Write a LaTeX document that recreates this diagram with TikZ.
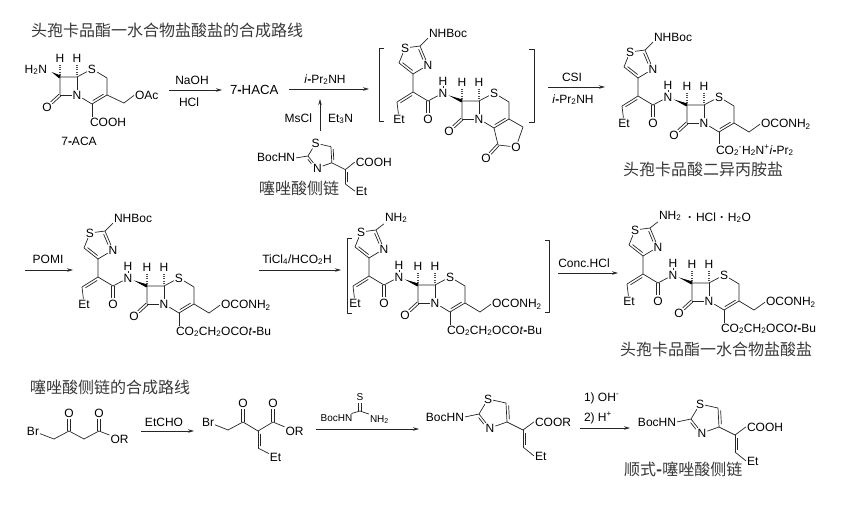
\documentclass[tikz,border=0pt]{standalone}
\usepackage{fontspec}
\setmainfont{Liberation Sans}
\newfontfamily\cjk{Noto Sans CJK SC}
\usepackage{tikz}
\usetikzlibrary{calc}
\usetikzlibrary{arrows.meta}
\newcommand{\tsub}[1]{\textsubscript{#1}}
\newcommand{\tsup}[1]{\textsuperscript{#1}}
\newcommand{\hy}{\textbf{-}}
\tikzset{
	% atoms of the formulas, and groups placed by their base line
	atom/.style={inner sep=0.8pt,font=\fontsize{12}{14}\selectfont},
	lab/.style={inner sep=0.8pt,anchor=base west,font=\fontsize{12}{14}\selectfont},
	reagent/.style={inner sep=0pt,anchor=base,font=\fontsize{12}{14}\selectfont},
	small/.style={font=\fontsize{10}{12}\selectfont},
	cjktext/.style={inner sep=0pt,anchor=west,text=black!78,font=\cjk\fontsize{16}{18}\selectfont},
	bond/.style={line width=0.7pt,draw=black!85,line join=round},
	hashbond/.style={line width=1.8pt,draw=black!70,dash pattern=on 0.8pt off 1.6pt,shorten <=2pt},
	rxn/.style={line width=0.8pt,draw=black!85,-{Stealth[length=6pt,width=3.5pt]}}
}
\begin{document}
\begin{tikzpicture}[x=1pt,y=-1pt]
	\useasboundingbox (0,0) rectangle (844,504);
	% macros for bonds: double, carbonyl, wedge
	\newcommand{\dbond}[4][]{\draw[bond](#2)--(#3);\draw[bond,shorten >=2.5pt,shorten <=2.5pt,#1]($(#2)!#4pt!90:(#3)$)--($(#3)!#4pt!-90:(#2)$);}
	\newcommand{\cobond}[2]{\draw[bond,shorten >=6pt]($(#1)!1.3pt!90:(#2)$)--($(#2)!1.3pt!-90:(#1)$);\draw[bond,shorten >=6pt]($(#1)!1.3pt!-90:(#2)$)--($(#2)!1.3pt!90:(#1)$);}
	\newcommand{\wedgeb}[2]{\fill[black]($(#1)!0.3!(#2)$)--($(#2)!1.6pt!90:(#1)$)--($(#2)!1.6pt!-90:(#1)$)--cycle;}
	% bicyclic core, origin at the carbon beside the lactam C=O
	\newcommand{\cephring}{
		\coordinate (c7) at (0,0);
		\coordinate (c6) at (17,0);
		\coordinate (c8) at (0,18);
		\coordinate (c2) at (47,1);
		\coordinate (c3) at (47,18);
		\coordinate (c4) at (32,27);
		\node[atom](n5) at (17,18){N};
		\node[atom](s1) at (32,-8){S};
		\node[atom](h7) at (0,-19){H};
		\node[atom](h6) at (17,-19){H};
		\node[atom](o8) at (-13,30){O};
		\draw[bond](c8)--(c7)--(c6)--(s1)--(c2)--(c3);
		\draw[bond](c8)--(n5)--(c6);
		\draw[bond](n5)--(c4);
		\dbond{c3}{c4}{-2.5}
		\cobond{c8}{o8}
		\draw[hashbond](c7)--(h7);
		\draw[hashbond](c6)--(h6);
	}
	% amide and thiazole part on the left of the core
	\newcommand{\cephside}[1]{
		\coordinate (t2) at (-42,-55);
		\coordinate (t4) at (-49,-27);
		\coordinate (t5) at (-63,-38);
		\coordinate (ca) at (-49,-9);
		\coordinate (cb) at (-65,1);
		\coordinate (cc) at (-34,0);
		\node[atom](t1) at (-57,-53){S};
		\node[atom](t3) at (-34,-36){N};
		\node[atom](et) at (-63,18){Et};
		\node[atom](oc) at (-34,18){O};
		\node[atom](na) at (-19,-8){N};
		\node[atom](ha) at (-19,-20){H};
		\node[lab](amine) at (-34,-64){#1};
		\draw[bond](amine.south west)--(t2)--(t1)--(t5);
		\draw[bond](t4)--(t3);
		\dbond{t5}{t4}{2.5}
		\dbond[shorten >=7pt]{t2}{t3}{-2.5}
		\draw[bond](t4)--(ca)--(cc)--(na);
		\dbond{ca}{cb}{2.5}
		\draw[bond](cb)--(et);
		\cobond{cc}{oc}
		\draw[bond](na)--(ha);
		\wedgeb{na}{c7}
	}
	% side chain at C3 and ester at C4
	\newcommand{\cephtail}[1]{
		\coordinate (cp) at (62,27);
		\node[lab](oco) at (73,22.5){OCONH\tsub{2}};
		\node[lab](est) at (28,49){#1};
		\draw[bond](c3)--(cp)--(oco.west);
		\draw[bond](c4)--(c4 |- est.north);
	}
	% thiazole acid fragment, origin at C2
	\newcommand{\thzacid}[1]{
		\coordinate (t2) at (0,0);
		\coordinate (t4) at (28,8);
		\coordinate (t5) at (27,-11);
		\coordinate (ca) at (44,16);
		\coordinate (cb) at (44,33);
		\node[atom](t1) at (9,-15){S};
		\node[atom](t3) at (11,14){N};
		\node[lab,anchor=base east](boc) at (-14,7){BocHN};
		\node[lab](acid) at (55,12){#1};
		\node[lab](et) at (55,46){Et};
		\draw[bond](boc.east)--(t2)--(t1)--(t5);
		\draw[bond](t4)--(t3);
		\dbond{t5}{t4}{2.5}
		\dbond[shorten >=7pt]{t2}{t3}{-2.5}
		\draw[bond](t4)--(ca)--(acid.west);
		\dbond{ca}{cb}{2.5}
		\draw[bond](cb)--(et.west);
	}

	% titles
	\node[cjktext](title1) at (31,30){头孢卡品酯一水合物盐酸盐的合成路线};
	\node[cjktext](title2) at (30,387){噻唑酸侧链的合成路线};

	% 7-ACA
	\begin{scope}[shift={(60,77)},name prefix=aca-]
		\cephring
		\coordinate (cp) at (64,26);
		\node[lab,anchor=base east](nh) at (-12,-4){H\tsub{2}N};
		\node[lab](oac) at (74,22.5){OAc};
		\node[lab](cooh) at (29,49){COOH};
		\draw[bond](c3)--(cp)--(oac.west);
		\draw[bond](c4)--(c4 |- cooh.north);
		\wedgeb{nh.east}{c7}
	\end{scope}
	\node[reagent](acaname) at (79,145){7\hy ACA};

	% first row, reagents and arrows
	\coordinate (a1s) at (169,90);
	\coordinate (a1e) at (222,90);
	\draw[rxn](a1s)--(a1e);
	\node[reagent](naoh) at (192,84){NaOH};
	\node[reagent](hcl1) at (189,106){HCl};
	\node[lab,font=\fontsize{13.2}{15}\selectfont](haca) at (229,94.5){7\hy HACA};
	\coordinate (a2s) at (289,89);
	\coordinate (a2e) at (369,89);
	\draw[rxn](a2s)--(a2e);
	\node[reagent](ipr1) at (325,83){\textit{i}\hy Pr\tsub{2}NH};
	\coordinate (a3s) at (320,131);
	\coordinate (a3e) at (320,99);
	\draw[rxn](a3s)--(a3e);
	\node[lab,anchor=base east](mscl) at (313,122){MsCl};
	\node[lab](et3n) at (327,122){Et\tsub{3}N};

	% thiazole acid under the arrow
	\begin{scope}[shift={(308,156)},scale=0.85,name prefix=acid-]
		\thzacid{COOH}
	\end{scope}
	\node[cjktext](acidname) at (259,188){噻唑酸侧链};

	% bracketed lactone
	\draw[bond](384,48)--(379,48)--(379,121)--(384,121);
	\draw[bond](529,49)--(534,49)--(534,122)--(529,122);
	\begin{scope}[shift={(462,101)},name prefix=lac-]
		\cephring
		\cephside{NHBoc}
		\coordinate (lc) at (61,26);
		\coordinate (lk) at (36,44);
		\node[atom](lo) at (54,46){O};
		\node[atom](lx) at (24,57){O};
		\draw[bond](c3)--(lc)--(lo)--(lk)--(c4);
		\cobond{lk}{lx}
	\end{scope}

	\coordinate (a4s) at (548,87);
	\coordinate (a4e) at (605,87);
	\draw[rxn](a4s)--(a4e);
	\node[reagent](csi) at (572,81){CSI};
	\node[reagent](ipr2) at (573,103){\textit{i}\hy Pr\tsub{2}NH};

	% diisopropylamine salt
	\begin{scope}[shift={(687,105)},name prefix=salt-]
		\cephring
		\cephside{NHBoc}
		\cephtail{CO\tsub{2}\tsup{-}H\tsub{2}N\tsup{+}\textit{i}\hy Pr\tsub{2}}
	\end{scope}
	\node[cjktext](saltname) at (623,169){头孢卡品酸二异丙胺盐};

	% second row
	\coordinate (b1s) at (25,270);
	\coordinate (b1e) at (73,270);
	\draw[rxn](b1s)--(b1e);
	\node[reagent](pomi) at (48,263){POMI};
	\begin{scope}[shift={(147,286)},name prefix=pom-]
		\cephring
		\cephside{NHBoc}
		\cephtail{CO\tsub{2}CH\tsub{2}OCO\textit{t}\hy Bu}
	\end{scope}

	\coordinate (b2s) at (259,270);
	\coordinate (b2e) at (341,270);
	\draw[rxn](b2s)--(b2e);
	\node[reagent](ticl) at (297,263){TiCl\tsub{4}/HCO\tsub{2}H};

	\draw[bond](352,238)--(347,238)--(347,313)--(352,313);
	\draw[bond](545,240)--(549,240)--(549,312)--(545,312);
	\begin{scope}[shift={(418,285)},name prefix=free-]
		\cephring
		\cephside{NH\tsub{2}}
		\cephtail{CO\tsub{2}CH\tsub{2}OCO\textit{t}\hy Bu}
	\end{scope}

	\coordinate (b3s) at (558,273);
	\coordinate (b3e) at (618,273);
	\draw[rxn](b3s)--(b3e);
	\node[reagent](conc) at (584,267){Conc.HCl};

	\begin{scope}[shift={(692,283)},name prefix=prod-]
		\cephring
		\cephside{NH\tsub{2}}
		\cephtail{CO\tsub{2}CH\tsub{2}OCO\textit{t}\hy Bu}
	\end{scope}
	\node[lab](hydr) at (687,221){\textbf{\textperiodcentered}\hspace{4pt}HCl\hspace{4pt}\textbf{\textperiodcentered}\hspace{4pt}H\tsub{2}O};
	\node[cjktext](prodname) at (620,349){头孢卡品酯一水合物盐酸盐};

	% third row, side chain synthesis
	\coordinate (d1) at (54,439);
	\coordinate (d2) at (69,431);
	\coordinate (d3) at (84,439);
	\coordinate (d4) at (99,431);
	\node[atom](dbr) at (33,431){Br};
	\node[atom](do1) at (69,413){O};
	\node[atom](do2) at (99,413){O};
	\node[atom](dor) at (119.5,439){OR};
	\draw[bond](dbr)--(d1)--(d2)--(d3)--(d4)--(dor);
	\cobond{d2}{do1}
	\cobond{d4}{do2}

	\coordinate (c1s) at (141,431);
	\coordinate (c1e) at (194,431);
	\draw[rxn](c1s)--(c1e);
	\node[reagent](etcho) at (164,426){EtCHO};

	\coordinate (e1) at (228,430);
	\coordinate (e2) at (243,422);
	\coordinate (e3) at (258,431);
	\coordinate (e4) at (273,422);
	\coordinate (e5) at (258,448);
	\node[atom](ebr) at (208,422){Br};
	\node[atom](eo1) at (243,403){O};
	\node[atom](eo2) at (273,403){O};
	\node[atom](eor) at (294.5,431){OR};
	\node[atom](eet) at (275.5,457){Et};
	\draw[bond](ebr)--(e1)--(e2)--(e3)--(e4)--(eor);
	\cobond{e2}{eo1}
	\cobond{e4}{eo2}
	\dbond{e3}{e5}{2.5}
	\draw[bond](e5)--(eet);

	\coordinate (c2s) at (316,429);
	\coordinate (c2e) at (419,429);
	\draw[rxn](c2s)--(c2e);
	\coordinate (u1) at (360,411);
	\node[atom,small](ub) at (336.5,418){BocHN};
	\node[atom,small](us) at (360,397){S};
	\node[lab,small](un) at (369,422){NH\tsub{2}};
	\draw[bond](ub)--(u1)--(un.north west);
	\cobond{u1}{us}

	\begin{scope}[shift={(479,414)},name prefix=ester-]
		\thzacid{COOR}
	\end{scope}

	\coordinate (c3s) at (580,428);
	\coordinate (c3e) at (630,428);
	\draw[rxn](c3s)--(c3e);
	\node[lab](oh) at (583,401){1) OH\tsup{-}};
	\node[lab](hp) at (583,421){2) H\tsup{+}};

	\begin{scope}[shift={(691,419)},name prefix=cis-]
		\thzacid{COOH}
	\end{scope}
	\node[cjktext](cisname) at (624,469){顺式\textbf{-}噻唑酸侧链};
\end{tikzpicture}
\end{document}
